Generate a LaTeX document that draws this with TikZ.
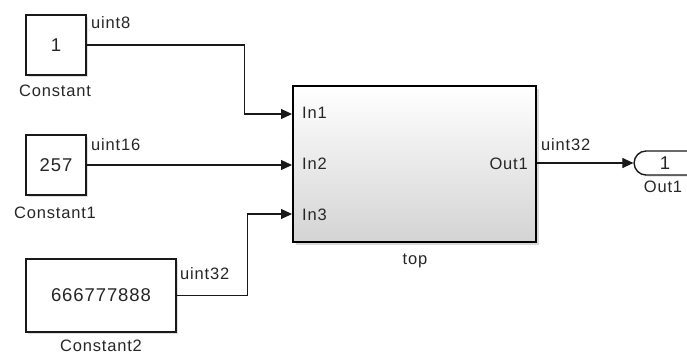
\documentclass[tikz,border=0pt]{standalone}
\usepackage{fontspec}
\setmainfont{Liberation Sans}[LetterSpace=5]
\usetikzlibrary{arrows.meta,shadows,shapes.misc}
\tikzset{
  blk/.style={draw=black!90, line width=1.6pt, fill=white, inner sep=0pt,
    drop shadow={shadow xshift=1.5pt, shadow yshift=-1.5pt, opacity=0.25}},
  valtxt/.style={font=\fontsize{18.5}{20}\selectfont, text=black!85},
  lbl/.style={font=\fontsize{16.5}{18}\selectfont, text=black!85, inner sep=0pt},
  sig/.style={line width=1.1pt, black!90},
  arr/.style={sig, -{Triangle[length=11pt,width=10pt]}},
}
\begin{document}
\begin{tikzpicture}[x=1pt,y=-1pt]
\useasboundingbox (0,0) rectangle (687,354);
% blocks
\node[blk, valtxt, minimum width=60pt, minimum height=60pt] (c0) at (56,45) {1};
\node[blk, valtxt, minimum width=60pt, minimum height=60pt] (c1) at (56,165) {257};
\node[blk, valtxt, minimum width=150pt, minimum height=73pt] (c2) at (101,295.5) {666777888};
\node[draw=black, line width=2.8pt, minimum width=243pt, minimum height=156pt,
  top color=white, bottom color=black!17, inner sep=0pt,
  drop shadow={shadow xshift=3pt, shadow yshift=-3pt, opacity=0.3}] (top) at (414.5,164) {};
\node[draw=black!90, line width=1.4pt, rounded rectangle, rounded rectangle right arc=none,
  minimum width=60pt, minimum height=24pt, fill=white, inner sep=0pt, valtxt,
  drop shadow={shadow xshift=1.5pt, shadow yshift=-1.5pt, opacity=0.25}] (out) at (665,163) {1};
% block names
\node[lbl] (n0) at (55,91) {Constant};
\node[lbl] (n1) at (55,213) {Constant1};
\node[lbl] (n2) at (101,346) {Constant2};
\node[lbl] (ntop) at (415,261) {top};
\node[lbl] (nout) at (663,187) {Out1};
% port coordinates and labels
\coordinate (in1) at (292,114);
\coordinate (in2) at (292,165);
\coordinate (in3) at (292,214);
\node[lbl, anchor=west] (p1) at (302,113) {In1};
\node[lbl, anchor=west] (p2) at (302,164) {In2};
\node[lbl, anchor=west] (p3) at (302,215) {In3};
\node[lbl, anchor=east] (po) at (528,164) {Out1};
% signals
\draw[arr] (c0.east) -- ++(158,0) |- (in1);
\draw[arr] (c1.east) -- (in2);
\draw[arr] (c2.east) -- ++(71,0) |- (in3);
\draw[arr] (top.east |- out.west) -- (out.west);
% signal labels
\node[lbl, anchor=west] (s0) at (91,23) {uint8};
\node[lbl, anchor=west] (s1) at (91,145) {uint16};
\node[lbl, anchor=west] (s2) at (180,274) {uint32};
\node[lbl, anchor=west] (s3) at (541,145) {uint32};
\end{tikzpicture}
\end{document}
